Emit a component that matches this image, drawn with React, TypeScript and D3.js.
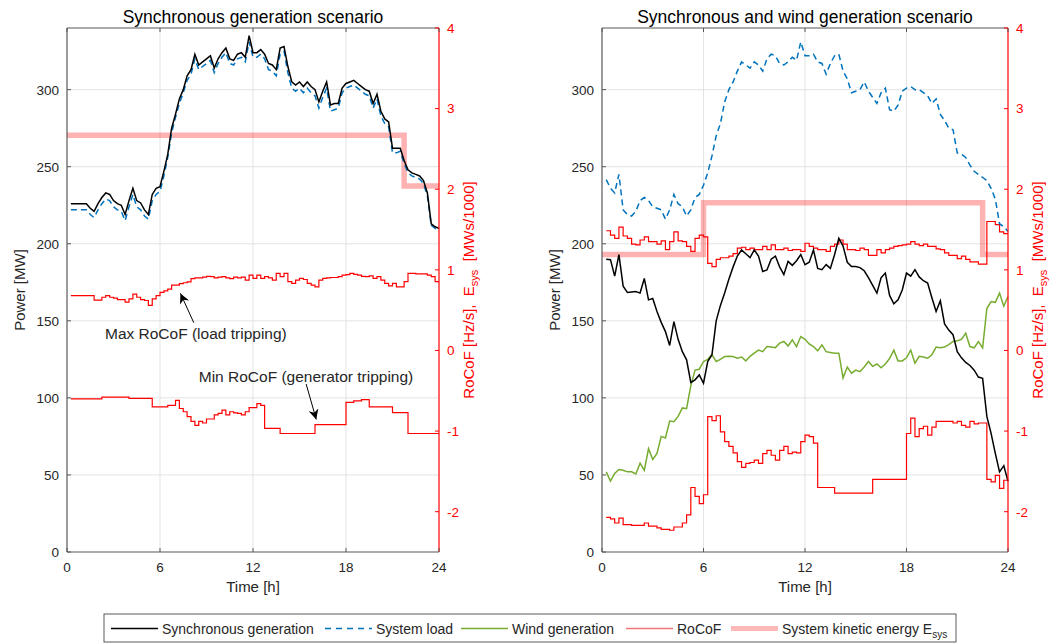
import React from 'react';
import * as d3 from 'd3';

// ---------- data ----------
const HOUR_TICKS = [0, 6, 12, 18, 24];
const POWER_TICKS = [0, 50, 100, 150, 200, 250, 300];
const ROCOF_TICKS = [-2, -1, 0, 1, 2, 3, 4];

// sample instants: 0.25 h ... 24 h (quarter-hourly)
const TIMES = d3.range(1, 97).map((i) => i * 0.25);

// Left panel: synchronous generation scenario
const syncGenA = [
  226, 226, 226, 226, 226, 223, 221, 226, 230, 233, 232, 228,
  226, 225, 219, 228, 236, 228, 226.5, 222, 219, 232, 236, 237,
  247, 258, 275, 284, 294, 300, 309, 313, 323, 316, 318, 320,
  322, 314, 320, 324, 327, 320, 319, 323, 324, 321, 335, 324,
  324, 326, 323, 317, 316, 313, 327, 328, 315, 305, 303, 305,
  302, 305, 302, 300, 292, 299, 305, 290, 291, 291, 301, 304,
  305, 306, 304, 302, 300, 299, 291, 297, 286, 281, 279, 262,
  262, 262, 254, 248, 246, 245, 244, 241, 233, 213, 211, 210,
];
const loadA = [
  222, 222, 222, 222, 222, 219, 217, 222, 226, 229, 228, 224,
  222, 221, 215, 224, 232, 224, 222, 218, 216, 228, 232, 234,
  244, 256, 272, 282, 291, 298, 306, 310, 320, 313, 315, 317,
  319, 311, 317, 321, 324, 317, 316, 320, 321, 318, 331, 321,
  321, 323, 320, 313, 312, 309, 323, 325, 311, 301, 299, 301,
  298, 301, 298, 296, 288, 295, 301, 286, 287, 288, 298, 301,
  302, 303, 301, 299, 297, 296, 288, 294, 283, 278, 276, 259,
  259, 260, 252, 246, 244, 243, 242, 239, 231, 212, 210, 209,
];
const maxRocofA = [
  0.68, 0.68, 0.68, 0.68, 0.68, 0.68, 0.625, 0.625, 0.66, 0.68, 0.66, 0.65,
  0.63, 0.63, 0.6, 0.64, 0.7, 0.66, 0.63, 0.62, 0.56, 0.64, 0.68, 0.72,
  0.74, 0.76, 0.81, 0.81, 0.83, 0.84, 0.85, 0.89, 0.9, 0.9, 0.91, 0.92,
  0.915, 0.9, 0.91, 0.915, 0.9, 0.89, 0.91, 0.9, 0.91, 0.873, 0.935, 0.894,
  0.935, 0.894, 0.915, 0.9, 0.873, 0.956, 0.915, 0.956, 0.853, 0.832, 0.873, 0.894,
  0.88, 0.832, 0.81, 0.79, 0.873, 0.894, 0.9, 0.905, 0.905, 0.915, 0.935, 0.94,
  0.956, 0.945, 0.935, 0.92, 0.915, 0.925, 0.894, 0.915, 0.873, 0.832, 0.8, 0.832,
  0.79, 0.79, 0.853, 0.956, 0.956, 0.95, 0.95, 0.95, 0.935, 0.915, 0.853, 0.853,
];
const minRocofA = [
  -0.6, -0.6, -0.6, -0.6, -0.6, -0.6, -0.6, -0.6, -0.58, -0.58, -0.58, -0.58,
  -0.58, -0.58, -0.58, -0.595, -0.595, -0.595, -0.595, -0.595, -0.595, -0.7, -0.7, -0.7,
  -0.7, -0.68, -0.68, -0.62, -0.72, -0.76, -0.82, -0.88, -0.93, -0.88, -0.9, -0.85,
  -0.85, -0.8, -0.78, -0.74, -0.8, -0.76, -0.775, -0.78, -0.8, -0.76, -0.71, -0.71,
  -0.66, -0.68, -0.967, -0.967, -0.967, -0.967, -1.03, -1.03, -1.03, -1.03, -1.03, -1.03,
  -1.03, -1.03, -1.03, -0.92, -0.92, -0.92, -0.92, -0.92, -0.92, -0.92, -0.92, -0.645,
  -0.645, -0.625, -0.625, -0.61, -0.61, -0.7, -0.7, -0.7, -0.7, -0.7, -0.7, -0.77,
  -0.77, -0.77, -0.77, -1.03, -1.03, -1.03, -1.03, -1.03, -1.03, -1.03, -1.03, -1.03,
];
const energyTimesA = [0, 21.75, 24];
const energyA = [2.67, 2.04, 2.04];

// Right panel: synchronous and wind generation scenario
const syncGenB = [
  190, 189.7, 179, 192.9, 172.5, 168.4, 168.7, 169, 168, 177.5, 163.6, 164.5,
  156, 149, 143, 134, 149.5, 138, 130, 124.7, 110, 111.7, 114.9, 109.5,
  123.6, 128, 150, 160, 168, 177, 185, 192, 196, 193.5, 191, 196,
  192, 182, 183, 190, 192, 185, 180, 188.6, 186, 189, 193, 186.4,
  188, 196, 184, 183.2, 186.5, 184, 193, 203.5, 198.5, 188, 185.3, 185.3,
  184.5, 182.5, 178, 173, 168, 178, 181, 166.5, 161, 163.6, 170, 181,
  179, 183.2, 178.5, 176, 174.5, 165, 156, 163, 148, 144, 141, 130,
  126, 123, 121, 118, 113.5, 112.7, 88, 77, 64, 52, 56, 46,
];
const loadB = [
  241.6, 236, 233, 245, 222, 219, 218, 221, 228, 230, 228, 224,
  223, 222, 216, 222, 232, 226, 224, 218, 222, 230, 232, 238,
  246, 257, 270, 278, 292, 300, 305, 312, 318, 316, 314, 318,
  316, 312, 320, 323, 322, 317, 316, 318, 321, 319, 331, 322,
  322, 323, 318, 317, 310, 317, 322, 323, 312, 307, 298, 299,
  300, 305, 299, 295, 291, 298, 301, 287, 286, 290, 299, 301,
  302, 300, 300, 298, 296, 291, 294, 284, 280, 275, 274, 259,
  258, 256, 251, 247, 245, 243, 241, 236, 229, 213, 211, 208,
];
const windB = [
  52, 46, 51, 53.5, 53, 52, 52, 50.6, 57.6, 53, 67, 60,
  64, 75, 74, 85, 84.5, 88, 93.5, 93, 108, 118, 118.6, 123.6,
  125, 128, 123.6, 125, 126.8, 127, 126.8, 125.7, 126.5, 124, 127, 129,
  131, 130, 133.3, 133, 132.6, 135.5, 136.6, 133.7, 137.6, 133.3, 139.8, 138,
  135, 133.3, 130.5, 134.4, 130, 129.5, 129, 129, 113, 120, 116, 118,
  117, 120, 123.6, 120.5, 122, 119.5, 122, 125.5, 131, 124, 124, 126,
  131, 122.5, 127, 126.5, 125.7, 128, 133, 132.5, 133, 134.5, 136.6, 137,
  138, 142, 133.3, 132.5, 136.6, 132.5, 158, 162.5, 162, 168, 159.5, 165.8,
];
const maxRocofB = [
  1.485, 1.43, 1.39, 1.53, 1.42, 1.39, 1.32, 1.31, 1.37, 1.41, 1.35, 1.35,
  1.32, 1.36, 1.25, 1.35, 1.47, 1.36, 1.35, 1.29, 1.23, 1.39, 1.43, 1.41,
  1.08, 1.04, 1.13, 1.15, 1.15, 1.17, 1.2, 1.27, 1.28, 1.25, 1.27, 1.25,
  1.25, 1.29, 1.25, 1.31, 1.25, 1.25, 1.27, 1.24, 1.25, 1.25, 1.23, 1.33,
  1.29, 1.27, 1.25, 1.25, 1.23, 1.29, 1.32, 1.37, 1.32, 1.25, 1.25, 1.24,
  1.27, 1.25, 1.18, 1.18, 1.25, 1.21, 1.25, 1.27, 1.29, 1.3, 1.31, 1.32,
  1.35, 1.32, 1.3, 1.32, 1.29, 1.29, 1.26, 1.25, 1.21, 1.18, 1.18, 1.14,
  1.17, 1.13, 1.1, 1.1, 1.07, 1.07, 1.6, 1.6, 1.56, 1.47, 1.45, 1.45,
];
const minRocofB = [
  -2.07, -2.09, -2.14, -2.08, -2.16, -2.16, -2.17, -2.17, -2.17, -2.14, -2.18, -2.18,
  -2.2, -2.22, -2.22, -2.23, -2.19, -2.19, -2.14, -2.04, -1.7, -1.81, -1.9, -1.79,
  -0.82, -0.87, -0.81, -1.01, -1.13, -1.19, -1.27, -1.38, -1.45, -1.4, -1.39, -1.36,
  -1.4, -1.28, -1.24, -1.3, -1.36, -1.24, -1.19, -1.28, -1.26, -1.27, -1.13, -1.05,
  -1.07, -1.15, -1.7, -1.7, -1.7, -1.7, -1.77, -1.77, -1.77, -1.77, -1.77, -1.77,
  -1.77, -1.77, -1.77, -1.6, -1.6, -1.6, -1.6, -1.6, -1.6, -1.6, -1.6, -1.03,
  -0.84, -1.07, -0.97, -0.94, -1.05, -0.95, -0.88, -0.88, -0.88, -0.88, -0.9, -0.88,
  -0.93, -0.95, -0.88, -0.91, -0.9, -0.9, -1.6, -1.63, -1.55, -1.71, -1.61, -1.61,
];
const energyTimesB = [0, 6, 22.5, 24];
const energyB = [1.19, 1.833, 1.19, 1.19];

const LEGEND_LABELS = ['Synchronous generation', 'System load', 'Wind generation', 'RoCoF', 'System kinetic energy E'];

// ---------- styling ----------
const FONT = '"Liberation Sans", Arial, Helvetica, sans-serif';
const C_BLACK = '#000000';
const C_BLUE = '#0072BD';
const C_GREEN = '#77AC30';
const C_RED = '#FF0000';
const C_PINK = 'rgba(255,0,0,0.3)';
const C_AXIS = '#595959';
const C_TEXT = '#262626';
const C_GRID = '#e3e3e3';
const TOP = 28;
const BOTTOM = 552;

type Annot = { text: string; tt: number; tv: number; t0: number; v0: number; t1: number; v1: number };

type PanelProps = {
  x0: number;
  x1: number;
  title: string;
  sync: number[];
  load: number[];
  wind?: number[];
  maxR: number[];
  minR: number[];
  eT: number[];
  eV: number[];
  annots?: Annot[];
};

function Panel(p: PanelProps) {
  const x = d3.scaleLinear().domain([0, 24]).range([p.x0, p.x1]);
  const yP = d3.scaleLinear().domain([0, 340]).range([BOTTOM, TOP]);
  const yR = d3.scaleLinear().domain([-2.5, 4]).range([BOTTOM, TOP]);

  const powerLine = d3
    .line<number>()
    .x((_, i) => x(TIMES[i]))
    .y((d) => yP(d));
  const stepLine = d3
    .line<number>()
    .x((_, i) => x(TIMES[i]))
    .y((d) => yR(d))
    .curve(d3.curveStepAfter);
  const energyLine = d3
    .line<number>()
    .x((_, i) => x(p.eT[i]))
    .y((d) => yR(d))
    .curve(d3.curveStepAfter);

  const cx = (p.x0 + p.x1) / 2;
  const cy = (TOP + BOTTOM) / 2;
  const rLabX = p.x1 + 35;
  const pLabX = p.x0 - 42;

  return (
    <g fontFamily={FONT}>
      {/* grid */}
      {HOUR_TICKS.slice(1, -1).map((h) => (
        <line key={'gx' + h} x1={x(h)} x2={x(h)} y1={TOP} y2={BOTTOM} stroke={C_GRID} strokeWidth={1} />
      ))}
      {POWER_TICKS.slice(1).map((v) => (
        <line key={'gy' + v} x1={p.x0} x2={p.x1} y1={yP(v)} y2={yP(v)} stroke={C_GRID} strokeWidth={1} />
      ))}

      {/* kinetic energy */}
      <path d={energyLine(p.eV) || ''} fill="none" stroke={C_PINK} strokeWidth={5.5} />
      {/* RoCoF */}
      <path d={stepLine(p.maxR) || ''} fill="none" stroke={C_RED} strokeWidth={1.2} />
      <path d={stepLine(p.minR) || ''} fill="none" stroke={C_RED} strokeWidth={1.2} />
      {/* power */}
      <path d={powerLine(p.load) || ''} fill="none" stroke={C_BLUE} strokeWidth={1.5} strokeDasharray="6,4" />
      {p.wind && <path d={powerLine(p.wind) || ''} fill="none" stroke={C_GREEN} strokeWidth={1.5} />}
      <path d={powerLine(p.sync) || ''} fill="none" stroke={C_BLACK} strokeWidth={1.5} />

      {/* axes box */}
      <line x1={p.x0} x2={p.x1} y1={TOP} y2={TOP} stroke={C_AXIS} strokeWidth={1.2} />
      <line x1={p.x0} x2={p.x1} y1={BOTTOM} y2={BOTTOM} stroke={C_AXIS} strokeWidth={1.2} />
      <line x1={p.x0} x2={p.x0} y1={TOP} y2={BOTTOM} stroke={C_AXIS} strokeWidth={1.2} />
      <line x1={p.x1} x2={p.x1} y1={TOP} y2={BOTTOM} stroke={C_RED} strokeWidth={1.2} />

      {/* x ticks */}
      {HOUR_TICKS.map((h) => (
        <g key={'xt' + h}>
          <line x1={x(h)} x2={x(h)} y1={BOTTOM} y2={BOTTOM - 4} stroke={C_AXIS} />
          <line x1={x(h)} x2={x(h)} y1={TOP} y2={TOP + 4} stroke={C_AXIS} />
          <text x={x(h)} y={572} textAnchor="middle" fontSize={13.5} fill={C_TEXT}>
            {h}
          </text>
        </g>
      ))}
      {/* left ticks */}
      {POWER_TICKS.map((v) => (
        <g key={'yt' + v}>
          <line x1={p.x0} x2={p.x0 + 4} y1={yP(v)} y2={yP(v)} stroke={C_AXIS} />
          <text x={p.x0 - 8} y={yP(v)} dy="0.36em" textAnchor="end" fontSize={13.5} fill={C_TEXT}>
            {v}
          </text>
        </g>
      ))}
      {/* right ticks */}
      {ROCOF_TICKS.map((v) => (
        <g key={'rt' + v}>
          <line x1={p.x1} x2={p.x1 - 4} y1={yR(v)} y2={yR(v)} stroke={C_RED} />
          <text x={p.x1 + 8} y={yR(v)} dy="0.36em" textAnchor="start" fontSize={13.5} fill={C_RED}>
            {v}
          </text>
        </g>
      ))}

      {/* axis labels */}
      <text x={cx} y={592} textAnchor="middle" fontSize={15} fill={C_TEXT}>
        Time [h]
      </text>
      <text
        transform={`translate(${pLabX},${cy}) rotate(-90)`}
        textAnchor="middle"
        fontSize={15}
        fill={C_TEXT}
      >
        Power [MW]
      </text>
      <text
        transform={`translate(${rLabX},${cy}) rotate(-90)`}
        textAnchor="middle"
        fontSize={15}
        fill={C_RED}
      >
        <tspan>RoCoF [Hz/s],{'\u00A0\u00A0'}E</tspan>
        <tspan dy={4} fontSize={11}>sys</tspan>
        <tspan dy={-4}>{'\u00A0\u00A0'}[MWs/1000]</tspan>
      </text>

      {/* title */}
      <text x={cx} y={23} textAnchor="middle" fontSize={17.5} fill={C_BLACK}>
        {p.title}
      </text>

      {/* annotations */}
      {(p.annots || []).map((a, i) => (
        <g key={'an' + i}>
          <text x={x(a.tt)} y={yR(a.tv)} fontSize={15.5} fill={C_TEXT}>
            {a.text}
          </text>
          <line
            x1={x(a.t0)}
            y1={yR(a.v0)}
            x2={x(a.t1)}
            y2={yR(a.v1)}
            stroke={C_BLACK}
            strokeWidth={1}
            markerEnd="url(#arrowHead)"
          />
        </g>
      ))}
    </g>
  );
}

const annotsA: Annot[] = [
  { text: 'Max RoCoF (load tripping)', tt: 2.45, tv: 0.141, t0: 8.18, v0: 0.344, t1: 7.32, v1: 0.708 },
  { text: 'Min RoCoF (generator tripping)', tt: 8.5, tv: -0.388, t0: 15.43, v0: -0.417, t1: 16.08, v1: -0.855 },
];

function Legend() {
  const lx = [111, 325, 461, 626, 731];
  const styles = [
    { stroke: C_BLACK, w: 1.5, dash: undefined as string | undefined },
    { stroke: C_BLUE, w: 1.5, dash: '6,5' },
    { stroke: C_GREEN, w: 1.5, dash: undefined },
    { stroke: '#f27777', w: 1.5, dash: undefined },
    { stroke: 'rgba(255,0,0,0.28)', w: 5, dash: undefined },
  ];
  const ly = 628.5;
  return (
    <g fontFamily={FONT}>
      <rect x={104} y={614} width={852} height={28} fill="#ffffff" stroke="#333333" strokeWidth={0.8} />
      {LEGEND_LABELS.map((lab, i) => (
        <g key={lab}>
          <line
            x1={lx[i]}
            x2={lx[i] + 47}
            y1={ly}
            y2={ly}
            stroke={styles[i].stroke}
            strokeWidth={styles[i].w}
            strokeDasharray={styles[i].dash}
          />
          <text x={lx[i] + 51} y={634} fontSize={14} fill={C_TEXT}>
            {lab}
            {i === 4 && (
              <tspan dy={4} fontSize={10}>
                sys
              </tspan>
            )}
          </text>
        </g>
      ))}
    </g>
  );
}

export default function App() {
  return (
    <svg
      width={1062}
      height={644}
      viewBox="0 0 1062 644"
      style={{ position: 'absolute', left: 0, top: 0, background: '#ffffff' }}
    >
      <defs>
        <marker
          id="arrowHead"
          viewBox="0 0 10 10"
          refX={10}
          refY={5}
          markerWidth={13}
          markerHeight={10}
          markerUnits="userSpaceOnUse"
          orient="auto"
        >
          <path d="M0,0 L10,5 L0,10 L3,5 Z" fill={C_BLACK} />
        </marker>
      </defs>
      <rect x={0} y={0} width={1062} height={644} fill="#ffffff" />
      <Panel
        x0={67}
        x1={439}
        title="Synchronous generation scenario"
        sync={syncGenA}
        load={loadA}
        maxR={maxRocofA}
        minR={minRocofA}
        eT={energyTimesA}
        eV={energyA}
        annots={annotsA}
      />
      <Panel
        x0={602}
        x1={1008}
        title="Synchronous and wind generation scenario"
        sync={syncGenB}
        load={loadB}
        wind={windB}
        maxR={maxRocofB}
        minR={minRocofB}
        eT={energyTimesB}
        eV={energyB}
      />
      <Legend />
    </svg>
  );
}
